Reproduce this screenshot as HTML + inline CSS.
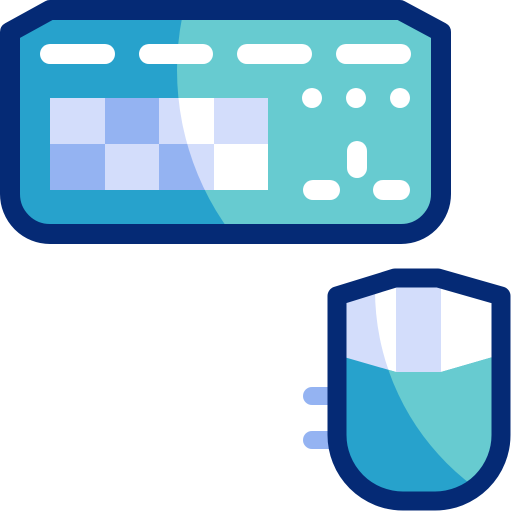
<!DOCTYPE html>
<html><head><style>html,body{margin:0;padding:0;background:#fff}svg{display:block}</style></head>
<body>
<svg width="512" height="512" viewBox="0 0 512 512" xmlns="http://www.w3.org/2000/svg">
<defs>
<clipPath id="kb"><path d="M10,32 L50,10 L400,10 L441,32 L441,194 A40,40 0 0 1 401,234 L50,234 A40,40 0 0 1 10,194 Z"/></clipPath>
<clipPath id="kc"><circle cx="450" cy="70" r="273"/></clipPath>
<clipPath id="ms"><path d="M337,296 L395,278 L438,278 L501,296 L501,435 A66,66 0 0 1 435,501 L403,501 A66,66 0 0 1 337,435 Z"/></clipPath>
<clipPath id="mc"><circle cx="620" cy="290" r="245"/></clipPath>
</defs>
<g clip-path="url(#kb)">
<rect x="0" y="0" width="460" height="250" fill="#27A2CC"/>
<circle cx="450" cy="70" r="273" fill="#67CBD0"/>
</g>
<rect x="50" y="98" width="55" height="46" fill="#D3DDFB"/>
<rect x="105" y="98" width="54" height="46" fill="#94B3F2"/>
<rect x="159" y="98" width="55" height="46" fill="#D3DDFB"/>
<rect x="159" y="98" width="55" height="46" fill="#fff" clip-path="url(#kc)"/>
<rect x="214" y="98" width="54" height="46" fill="#D3DDFB"/>
<rect x="50" y="144" width="55" height="46" fill="#94B3F2"/>
<rect x="105" y="144" width="54" height="46" fill="#D3DDFB"/>
<rect x="159" y="144" width="55" height="46" fill="#94B3F2"/>
<rect x="159" y="144" width="55" height="46" fill="#D3DDFB" clip-path="url(#kc)"/>
<rect x="214" y="144" width="54" height="46" fill="#fff"/>
<g fill="#fff">
<rect x="40" y="44" width="75" height="20" rx="10"/>
<rect x="139" y="44" width="74" height="20" rx="10"/>
<rect x="237" y="44" width="75" height="20" rx="10"/>
<rect x="336" y="44" width="75" height="20" rx="10"/>
<circle cx="312" cy="98" r="10"/><circle cx="356" cy="98" r="10"/><circle cx="400" cy="98" r="10"/>
<rect x="347" y="141" width="20" height="37" rx="10"/>
<rect x="303" y="180" width="37" height="20" rx="10"/>
<rect x="373" y="180" width="37" height="20" rx="10"/>
</g>
<path d="M10,32 L50,10 L400,10 L441,32 L441,194 A40,40 0 0 1 401,234 L50,234 A40,40 0 0 1 10,194 Z" fill="none" stroke="#052A75" stroke-width="20" stroke-linejoin="round"/>
<rect x="303" y="387" width="35" height="18" rx="9" fill="#94B3F2"/>
<rect x="303" y="431" width="35" height="18" rx="9" fill="#94B3F2"/>
<g clip-path="url(#ms)">
<rect x="330" y="270" width="180" height="240" fill="#D3DDFB"/>
<circle cx="620" cy="290" r="245" fill="#fff"/>
<rect x="396" y="270" width="45" height="110" fill="#D3DDFB"/>
<path d="M330,353 L396,372 L441,372 L510,352 L510,510 L330,510 Z" fill="#27A2CC"/>
<path d="M330,353 L396,372 L441,372 L510,352 L510,510 L330,510 Z" fill="#67CBD0" clip-path="url(#mc)"/>
</g>
<path d="M337,296 L395,278 L438,278 L501,296 L501,435 A66,66 0 0 1 435,501 L403,501 A66,66 0 0 1 337,435 Z" fill="none" stroke="#052A75" stroke-width="19" stroke-linejoin="round"/>
</svg>
</body></html>
